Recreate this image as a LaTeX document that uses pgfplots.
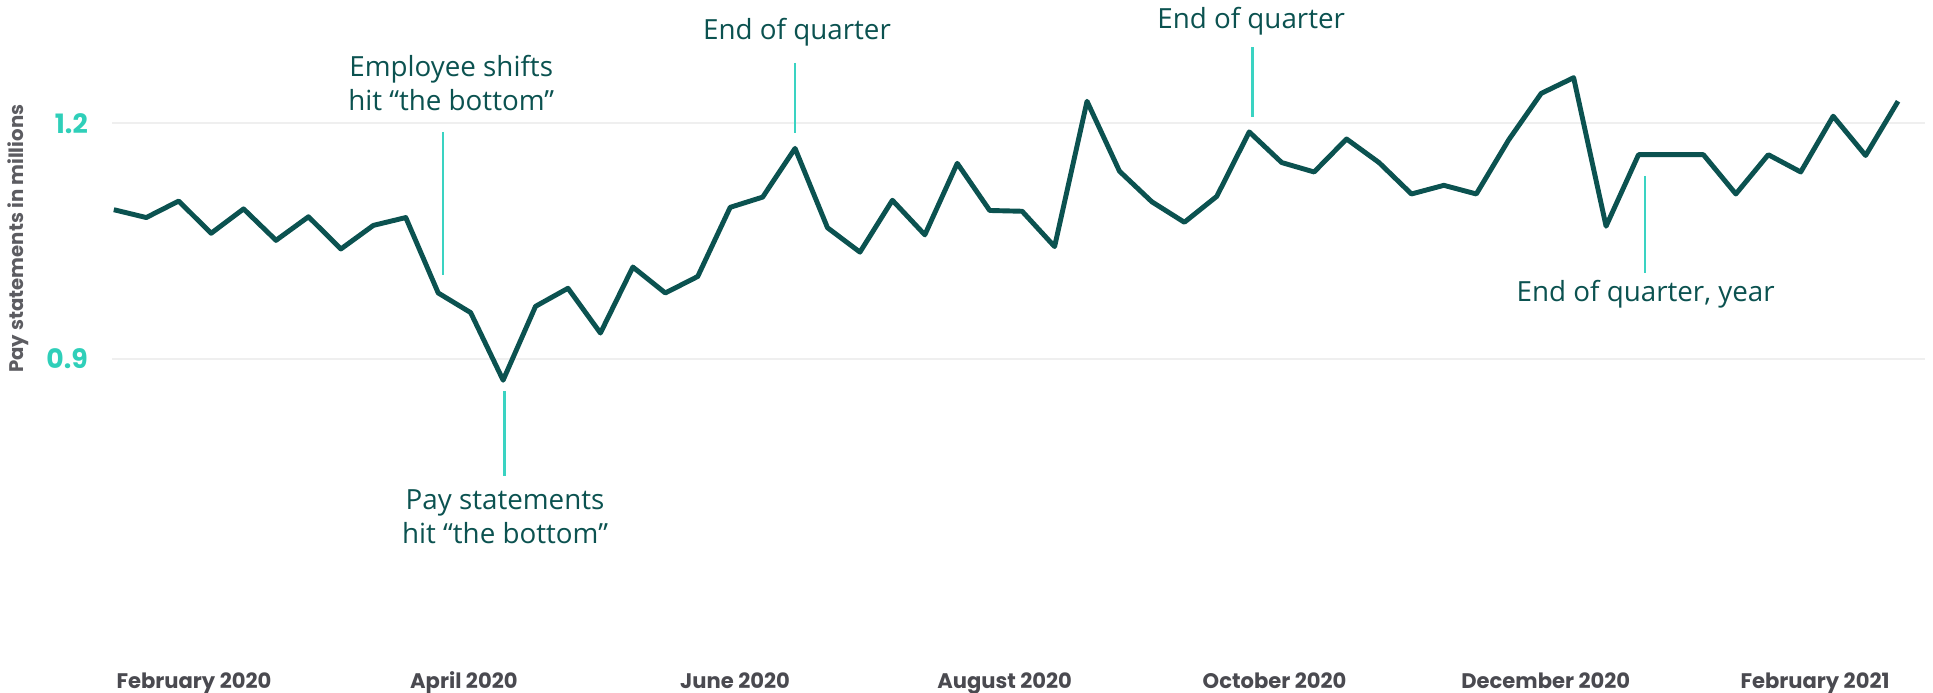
\documentclass[border=0pt]{standalone}
\usepackage{fontspec}
\setmainfont{Open Sans}
\newfontfamily\pop{Poppins}
\usepackage{pgfplots}
\pgfplotsset{compat=1.18}
\definecolor{lineTeal}{HTML}{0B5250}
\definecolor{leadTeal}{HTML}{3AD3C2}
\definecolor{tickTeal}{HTML}{2FCFB9}
\definecolor{tickGray}{HTML}{4A4A50}
\definecolor{gridGray}{HTML}{EFEFEF}

\pgfplotstableread{
x y
0 1.090
1 1.080
2 1.101
3 1.060
4 1.091
5 1.051
6 1.081
7 1.040
8 1.070
9 1.080
10 0.984
11 0.959
12 0.873
13 0.967
14 0.990
15 0.933
16 1.017
17 0.984
18 1.005
19 1.093
20 1.106
21 1.168
22 1.067
23 1.036
24 1.102
25 1.058
26 1.149
27 1.089
28 1.088
29 1.043
30 1.228
31 1.139
32 1.100
33 1.074
34 1.107
35 1.189
36 1.150
37 1.138
38 1.180
39 1.150
40 1.110
41 1.121
42 1.110
43 1.179
44 1.238
45 1.258
46 1.069
47 1.160
48 1.160
49 1.160
50 1.110
51 1.160
52 1.138
53 1.209
54 1.159
55 1.228
}\paystatements

\begin{document}
\begin{tikzpicture}
\useasboundingbox (-1.122cm,-0.378cm) rectangle (18.208cm,6.552cm);
\begin{axis}[
  at={(0,0)},anchor=south west,
  x=0.3244cm,y=7.857cm,
  xmin=-0.05,xmax=55.83,
  ymin=0.523,ymax=1.344,
  clip=false,
  axis line style={draw=none},
  major tick length=0pt,
  ytick={0.9,1.2},
  yticklabels={0.9,1.2},
  ymajorgrids,
  major grid style={gridGray,line width=0.6pt},
  yticklabel style={font=\pop\bfseries\fontsize{7.6}{9}\selectfont,text=tickTeal,anchor=east,xshift=-0.12cm},
  xtick={2.47,10.79,19.15,27.46,35.78,44.14,52.44},
  xticklabels={February 2020,April 2020,June 2020,August 2020,October 2020,December 2020,February 2021},
  xticklabel style={font=\pop\bfseries\fontsize{6}{7}\selectfont,text=tickGray,anchor=base,yshift=-0.33cm},
]
\addplot[lineTeal,line width=1.4pt,line join=round] table[x=x,y=y] {\paystatements};

% y label
\node[rotate=90,font=\pop\bfseries\fontsize{5.6}{6}\selectfont,text=tickGray!90] at (axis cs:-2.95,1.053) {Pay statements in millions};

% leader lines
\draw[leadTeal,line width=0.75pt] (axis cs:10.15,1.189) -- (axis cs:10.15,1.007);
\draw[leadTeal,line width=0.75pt] (axis cs:12.04,0.859) -- (axis cs:12.04,0.751);
\draw[leadTeal,line width=0.75pt] (axis cs:21.0,1.277) -- (axis cs:21.0,1.188);
\draw[leadTeal,line width=0.75pt] (axis cs:35.1,1.297) -- (axis cs:35.1,1.208);
\draw[leadTeal,line width=0.75pt] (axis cs:47.2,1.133) -- (axis cs:47.2,1.010);

% annotations
\tikzset{ann/.style={anchor=base,inner sep=0pt,text=lineTeal,font=\fontsize{7.9}{9}\selectfont}}
\node[ann] at (axis cs:10.4,1.2593) {Employee shifts};
\node[ann] at (axis cs:10.4,1.2157) {hit “the bottom”};
\node[ann] at (axis cs:12.06,0.7078) {Pay statements};
\node[ann] at (axis cs:12.06,0.6646) {hit “the bottom”};
\node[ann] at (axis cs:21.06,1.306) {End of quarter};
\node[ann] at (axis cs:35.06,1.3209) {End of quarter};
\node[ann] at (axis cs:47.22,0.9729) {End of quarter, year};
\end{axis}
\end{tikzpicture}
\end{document}
